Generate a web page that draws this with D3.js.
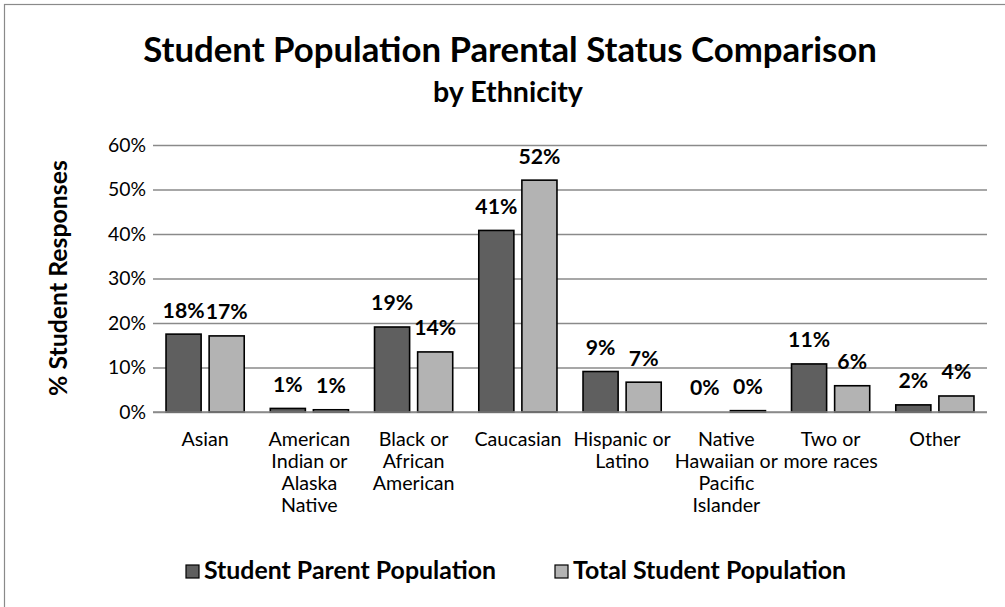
<!DOCTYPE html>
<html>
<head>
<meta charset="utf-8">
<script src="https://cdn.jsdelivr.net/npm/d3@7"></script>
<style>
  body { margin: 0; background: #fff; }
  svg { display: block; }
</style>
</head>
<body>
<svg id="chart" width="1005" height="607"></svg>
<script>
// Ethnicity categories (line breaks as wrapped under the axis)
const categories = [
  ["Asian"],
  ["American", "Indian or", "Alaska", "Native"],
  ["Black or", "African", "American"],
  ["Caucasian"],
  ["Hispanic or", "Latino"],
  ["Native", "Hawaiian or", "Pacific", "Islander"],
  ["Two or", "more races"],
  ["Other"]
];
const seriesNames = ["Student Parent Population", "Total Student Population"];
// Percent of student responses
const parentValues = [17.5, 0.8, 19.1, 40.8, 9.1, 0.0, 10.8, 1.6];
const totalValues  = [17.1, 0.5, 13.5, 52.1, 6.7, 0.3, 5.9, 3.6];
const yTicks = [0, 10, 20, 30, 40, 50, 60];

const seriesColors = ["#5f5f5f", "#b3b3b3"];
const FONT = "Lato, 'Open Sans', sans-serif";

const svg = d3.select("#chart");

// font size that gives a string a wanted rendered width
const probe = svg.append("text").attr("font-family", FONT).attr("font-size", 100).attr("x", -9999);
function sizeFor(str, weight, width) {
  probe.attr("font-weight", weight).text(str);
  return 100 * width / probe.node().getComputedTextLength();
}
const sz = {
  title: sizeFor("Student Population Parental Status Comparison", "bold", 734),
  sub: sizeFor("by Ethnicity", "bold", 150),
  tick: sizeFor("60%", "normal", 38),
  yTitle: sizeFor("% Student Responses", "bold", 236),
  cat: sizeFor("Caucasian", "normal", 87),
  label: sizeFor("41%", "bold", 42),
  legend: sizeFor("Student Parent Population", "bold", 292)
};
probe.remove();

// chart frame
svg.append("rect")
  .attr("x", 4.5).attr("y", 4.5).attr("width", 1020).attr("height", 620)
  .attr("fill", "#fff").attr("stroke", "#8a8a8a").attr("stroke-width", 1.2);

const plot = { left: 153, right: 987, top: 145, bottom: 412 };

const y = d3.scaleLinear().domain([0, 60]).range([plot.bottom, plot.top]);
const x0 = d3.scaleBand().domain(d3.range(categories.length)).range([plot.left, plot.right]);
const bw = x0.bandwidth();
const x1 = d3.scaleBand().domain([0, 1]).range([bw * 0.125, bw * 0.875]).paddingInner(0.186);

// gridlines + tick labels
const yAxis = svg.append("g")
  .attr("transform", `translate(${plot.left},0)`)
  .call(d3.axisLeft(y).tickValues(yTicks).tickFormat(d => d + "%")
    .tickSizeInner(-(plot.right - plot.left)).tickSizeOuter(0).tickPadding(7));
yAxis.select(".domain").remove();
yAxis.selectAll(".tick line").attr("stroke", "#8a8a8a").attr("stroke-width", 1.3);
yAxis.selectAll(".tick text")
  .attr("font-family", FONT).attr("font-size", sz.tick).attr("fill", "#000");

// category labels
const xAxis = svg.append("g")
  .attr("transform", `translate(0,${plot.bottom})`)
  .call(d3.axisBottom(x0).tickSize(0).tickFormat(""));
xAxis.select(".domain").remove();
xAxis.selectAll(".tick").each(function (i) {
  const t = d3.select(this).append("text")
    .attr("font-family", FONT).attr("font-size", sz.cat).attr("fill", "#000")
    .attr("text-anchor", "middle");
  categories[i].forEach((line, k) => {
    t.append("tspan").attr("x", 0).attr("y", 34 + k * 22).text(line);
  });
});

// bars
const rows = categories.map((c, i) => ({ i, vals: [parentValues[i], totalValues[i]] }));
const groups = svg.append("g").selectAll("g").data(rows).join("g")
  .attr("transform", d => `translate(${x0(d.i)},0)`);

groups.selectAll("rect")
  .data(d => d.vals.map((v, s) => ({ v, s })))
  .join("rect")
  .attr("x", d => x1(d.s))
  .attr("width", x1.bandwidth())
  .attr("y", d => y(d.v))
  .attr("height", d => y(0) - y(d.v))
  .attr("fill", d => seriesColors[d.s])
  .attr("stroke", d => d.v > 0 ? "#000" : "none")
  .attr("stroke-width", 1.6);

groups.selectAll("text.val")
  .data(d => d.vals.map((v, s) => ({ v, s })))
  .join("text")
  .attr("class", "val")
  .attr("x", d => x1(d.s) + x1.bandwidth() / 2)
  .attr("y", d => y(d.v) - 24)
  .attr("dy", "0.35em")
  .attr("text-anchor", "middle")
  .attr("font-family", FONT).attr("font-weight", "bold").attr("font-size", sz.label)
  .text(d => Math.round(d.v) + "%");

// zero baseline on top of bar edges
svg.append("line")
  .attr("x1", plot.left).attr("x2", plot.right)
  .attr("y1", y(0)).attr("y2", y(0))
  .attr("stroke", "#8a8a8a").attr("stroke-width", 1.3);

// titles
svg.append("text")
  .attr("x", 510).attr("y", 62).attr("text-anchor", "middle")
  .attr("font-family", FONT).attr("font-weight", "bold").attr("font-size", sz.title)
  .text("Student Population Parental Status Comparison");
svg.append("text")
  .attr("x", 508).attr("y", 102).attr("text-anchor", "middle")
  .attr("font-family", FONT).attr("font-weight", "bold").attr("font-size", sz.sub)
  .text("by Ethnicity");

svg.append("text")
  .attr("transform", "translate(67,278) rotate(-90)")
  .attr("text-anchor", "middle")
  .attr("font-family", FONT).attr("font-weight", "bold").attr("font-size", sz.yTitle)
  .text("% Student Responses");

// legend
const legendX = [186, 555];
const legend = svg.append("g").selectAll("g").data(seriesNames).join("g")
  .attr("transform", (d, i) => `translate(${legendX[i]},565)`);
legend.append("rect")
  .attr("width", 13).attr("height", 13)
  .attr("fill", (d, i) => seriesColors[i])
  .attr("stroke", "#000").attr("stroke-width", 1.2);
legend.append("text")
  .attr("x", 18).attr("y", 14)
  .attr("font-family", FONT).attr("font-weight", "bold").attr("font-size", sz.legend)
  .text(d => d);
</script>
</body>
</html>
